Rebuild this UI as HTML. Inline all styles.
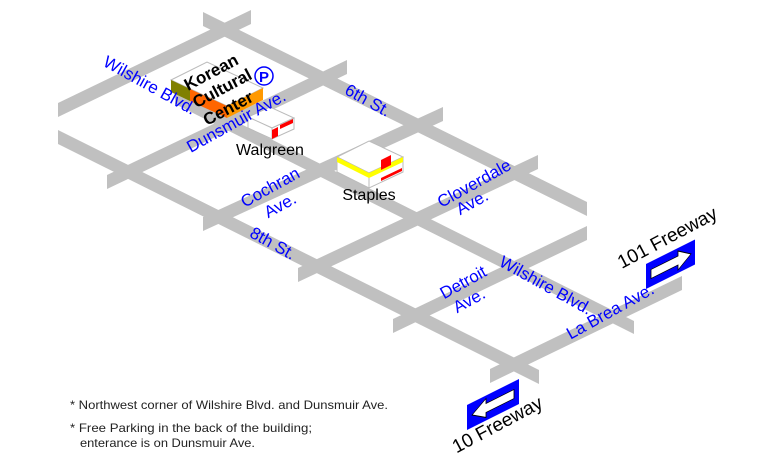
<!DOCTYPE html>
<html><head><meta charset="utf-8"><style>
html,body{margin:0;padding:0;background:#fff;}
svg{display:block;}
.r{fill:#c0c0c0;}
.lb{font-family:"Liberation Sans",sans-serif;font-size:17px;fill:#0000ff;}
.bk{font-family:"Liberation Sans",sans-serif;fill:#000;}
</style></head><body>
<svg width="780" height="471" viewBox="0 0 780 471" xmlns="http://www.w3.org/2000/svg">
<polygon class="r" points="58,103 251,10 251,24 58,117"/>
<polygon class="r" points="107,175 347,60 347,74 107,189"/>
<polygon class="r" points="203,217 443,107 443,121 203,231"/>
<polygon class="r" points="298,268 538,155 538,169 298,282"/>
<polygon class="r" points="393,319 587,226 587,240 393,333"/>
<polygon class="r" points="490,369 682,276 682,290 490,383"/>
<polygon class="r" points="203,12 587,202 587,216 203,26"/>
<polygon class="r" points="175,91 634,321 634,334 175,104"/>
<polygon class="r" points="58,130 539,370 539,384 58,144"/>

<polygon points="171,80 207,62 263,88 227,106" fill="#fff" stroke="#bbb" stroke-width="1"/>
<polygon points="171,80 190,89 190,101 171,92" fill="#808000"/>
<polygon points="190,89 227,106 227,118 190,101" fill="#ff6600"/>
<polygon points="227,106 263,88 263,100 227,118" fill="#ff9900"/>
<polygon points="248,117 270,107 294,118 272,128" fill="#fff" stroke="#bbb"/>
<polygon points="248,117 272,128 272,139 248,128" fill="#fff" stroke="#bbb"/>
<polygon points="272,128 294,118 294,129 272,139" fill="#fff" stroke="#bbb"/>
<polygon points="272,130 278,127 278,136 272,139" fill="#f00"/>
<polygon points="280,125 293,119 293,123 280,129" fill="#f00"/>
<polygon points="337,157 369,141 403,157 369,173" fill="#fff" stroke="#bbb"/>
<polygon points="337,157 369,173 369,188 337,172" fill="#fff" stroke="#bbb"/>
<polygon points="369,173 403,157 403,172 369,188" fill="#fff" stroke="#bbb"/>
<polygon points="337,157 369,173 369,178 337,162" fill="#ff0"/>
<polygon points="369,173 403,157 403,162 369,178" fill="#ff0"/>
<polygon points="381,160 391,155 391,165 381,170" fill="#f00"/>
<polygon points="381,178 402,168 402,171 381,181" fill="#f00"/>

<g class="bk" font-weight="bold" font-size="17">
<text x="211" y="78" text-anchor="middle" transform="rotate(-28 211 72)">Korean</text>
<text x="222" y="94" text-anchor="middle" transform="rotate(-28 222 88)">Cultural</text>
<text x="228" y="114" text-anchor="middle" transform="rotate(-28 228 108)">Center</text>
</g>
<circle cx="264" cy="76" r="9" fill="#fff" stroke="#00f" stroke-width="1.5"/>
<text x="264" y="82" text-anchor="middle" font-family="Liberation Sans,sans-serif" font-weight="bold" font-size="15" fill="#00f">P</text>
<text class="bk" x="270" y="155" text-anchor="middle" font-size="16">Walgreen</text>
<text class="bk" x="369" y="200" text-anchor="middle" font-size="16">Staples</text>

<text class="lb" x="150" y="91" text-anchor="middle" transform="rotate(29 150 85)">Wilshire Blvd.</text>
<text class="lb" x="236" y="127" text-anchor="middle" transform="rotate(-29 236 121)">Dunsmuir Ave.</text>
<text class="lb" x="368" y="106" text-anchor="middle" transform="rotate(29 368 100)">6th St.</text>
<text class="lb" x="270" y="193" text-anchor="middle" transform="rotate(-29 270 187)">Cochran</text>
<text class="lb" x="280" y="211" text-anchor="middle" transform="rotate(-29 280 205)">Ave.</text>
<text class="lb" x="273" y="249" text-anchor="middle" transform="rotate(29 273 243)">8th St.</text>
<text class="lb" x="474" y="189" text-anchor="middle" transform="rotate(-29 474 183)">Cloverdale</text>
<text class="lb" x="472" y="208" text-anchor="middle" transform="rotate(-29 472 202)">Ave.</text>
<text class="lb" x="463" y="288" text-anchor="middle" transform="rotate(-29 463 282)">Detroit</text>
<text class="lb" x="469" y="306" text-anchor="middle" transform="rotate(-29 469 300)">Ave.</text>
<text class="lb" x="546" y="291" text-anchor="middle" transform="rotate(29 546 285)">Wilshire Blvd.</text>
<text class="lb" x="610" y="317" text-anchor="middle" transform="rotate(-29 610 311)">La Brea Ave.</text>

<g transform="translate(646,264) skewY(-26.57)">
<rect x="0" y="0" width="49" height="25" fill="#0000ff"/>
<polygon points="5,8 32,8 32,3 45,12.5 32,22 32,17 5,17" fill="#fff" stroke="#000" stroke-width="0.8"/>
</g>
<g transform="translate(467,405) skewY(-26.57)">
<rect x="0" y="0" width="52" height="25" fill="#0000ff"/>
<polygon points="47,8 19,8 19,3 5,12.5 19,22 19,17 47,17" fill="#fff" stroke="#000" stroke-width="0.8"/>
</g>
<text class="bk" x="667" y="244" font-size="19" text-anchor="middle" transform="rotate(-28 667 237)">101 Freeway</text>
<text class="bk" x="497" y="431" font-size="19" text-anchor="middle" transform="rotate(-28 497 424)">10 Freeway</text>

<g font-family="Liberation Sans,sans-serif" font-size="12" fill="#222">
<text x="70" y="409" textLength="318" lengthAdjust="spacingAndGlyphs">* Northwest corner of Wilshire Blvd. and Dunsmuir Ave.</text>
<text x="70" y="432" textLength="242" lengthAdjust="spacingAndGlyphs">* Free Parking in the back of the building;</text>
<text x="80" y="447" textLength="175" lengthAdjust="spacingAndGlyphs">enterance is on Dunsmuir Ave.</text>
</g>
</svg>
</body></html>
